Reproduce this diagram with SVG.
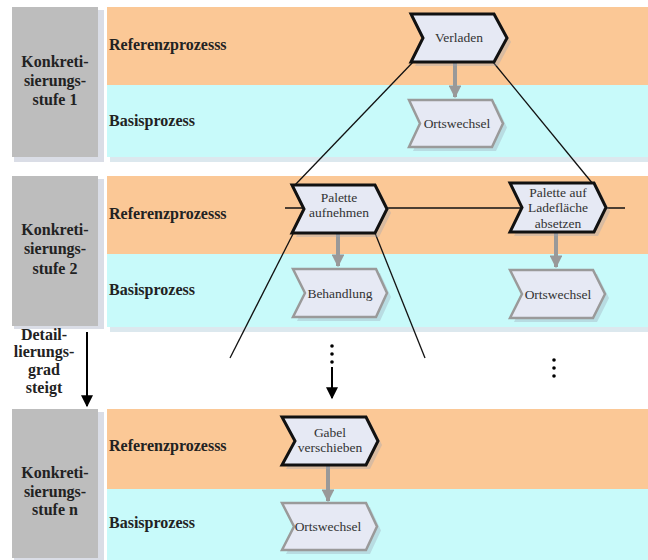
<svg xmlns="http://www.w3.org/2000/svg" width="648" height="560" viewBox="0 0 648 560">
<defs>
<style>
.ref{fill:#FBC896}
.bas{fill:#C8FAFA}
.gray{fill:#BDBDBD}
.gsh{fill:#DADDE6}
.bsh{fill:#DCE8EE}
.lvl{font-family:"Liberation Serif","Times New Roman",serif;font-weight:bold;font-size:16px;fill:#222;text-anchor:middle}
.lane{font-family:"Liberation Serif","Times New Roman",serif;font-weight:bold;font-size:16px;fill:#222}
.nt{font-family:"Liberation Serif","Times New Roman",serif;font-size:13.5px;fill:#333;text-anchor:middle}
.rn{fill:#E6E9F4;stroke:#111;stroke-width:3;stroke-linejoin:miter}
.bn{fill:#E6E9F4;stroke:#9A9A9A;stroke-width:2.5}
.sh{fill:#9AA3B5;opacity:0.35}
.ln{stroke:#111;stroke-width:1.3;fill:none}
.ga{stroke:#999;stroke-width:4;fill:none}
</style>
<marker id="gh" viewBox="0 0 10 10" refX="9" refY="5" markerWidth="3.2" markerHeight="3.2" orient="auto" markerUnits="strokeWidth">
<path d="M0,0 L10,5 L0,10 z" fill="#999"/>
</marker>
<marker id="bh" viewBox="0 0 10 10" refX="9" refY="5" markerWidth="6.5" markerHeight="6" orient="auto" markerUnits="strokeWidth">
<path d="M0,0 L10,5 L0,10 z" fill="#000"/>
</marker>
</defs>
<rect width="648" height="560" fill="#FFFFFF"/>

<g id="band1">
<rect class="gsh" x="14" y="10" width="90" height="152"/>
<rect class="gray" x="12" y="7" width="86" height="150"/>
<rect class="bsh" x="110" y="155" width="538" height="7"/>
<rect class="ref" x="107" y="7" width="541" height="78"/>
<rect class="bas" x="107" y="85" width="541" height="72"/>
<text class="lvl" x="55" y="67">Konkreti-</text>
<text class="lvl" x="55" y="86">sierungs-</text>
<text class="lvl" x="55" y="105">stufe 1</text>
<text class="lane" x="109" y="50">Referenzprozesss</text>
<text class="lane" x="109" y="126">Basisprozess</text>
</g>

<g id="band2">
<rect class="gsh" x="14" y="179" width="90" height="150"/>
<rect class="gray" x="12" y="176" width="86" height="150"/>
<rect class="bsh" x="110" y="325" width="538" height="7"/>
<rect class="ref" x="107" y="176" width="541" height="78"/>
<rect class="bas" x="107" y="254" width="541" height="73"/>
<text class="lvl" x="55" y="235">Konkreti-</text>
<text class="lvl" x="55" y="254">sierungs-</text>
<text class="lvl" x="55" y="274">stufe 2</text>
<text class="lane" x="109" y="219">Referenzprozesss</text>
<text class="lane" x="109" y="295">Basisprozess</text>
</g>

<g id="detail">
<text class="lvl" x="44" y="340">Detail-</text>
<text class="lvl" x="44" y="357">lierungs-</text>
<text class="lvl" x="44" y="375">grad</text>
<text class="lvl" x="44" y="393">steigt</text>
<line x1="87" y1="332" x2="87" y2="406" stroke="#000" stroke-width="2" marker-end="url(#bh)"/>
</g>

<g id="bandn">
<rect class="gsh" x="14" y="412" width="90" height="148"/>
<rect class="gray" x="12" y="409" width="86" height="149"/>
<rect class="ref" x="107" y="409" width="541" height="80"/>
<rect class="bas" x="107" y="489" width="541" height="71"/>
<text class="lvl" x="55" y="478">Konkreti-</text>
<text class="lvl" x="55" y="497">sierungs-</text>
<text class="lvl" x="55" y="515">stufe n</text>
<text class="lane" x="109" y="451">Referenzprozesss</text>
<text class="lane" x="109" y="528">Basisprozess</text>
</g>

<g id="connectors">
<line class="ln" x1="414" y1="61" x2="295" y2="185"/>
<line class="ln" x1="493" y1="62" x2="593" y2="184"/>
<line class="ln" x1="295" y1="230" x2="230" y2="358"/>
<line class="ln" x1="375" y1="233" x2="425" y2="358"/>
<line class="ln" x1="285" y1="208" x2="625" y2="208"/>
<line class="ga" x1="455" y1="63" x2="455" y2="97" marker-end="url(#gh)"/>
<line class="ga" x1="338" y1="234" x2="338" y2="266" marker-end="url(#gh)"/>
<line class="ga" x1="556" y1="233" x2="556" y2="267" marker-end="url(#gh)"/>
<line class="ga" x1="328" y1="466" x2="328" y2="501" marker-end="url(#gh)"/>
<circle cx="332" cy="346" r="1.8" fill="#000"/>
<circle cx="332" cy="354" r="1.8" fill="#000"/>
<circle cx="332" cy="362" r="1.8" fill="#000"/>
<line x1="332" y1="367" x2="332" y2="398" stroke="#000" stroke-width="2" marker-end="url(#bh)"/>
<circle cx="554" cy="360" r="1.8" fill="#000"/>
<circle cx="554" cy="368" r="1.8" fill="#000"/>
<circle cx="554" cy="376" r="1.8" fill="#000"/>
</g>

<g id="n-verladen">
<polygon class="sh" points="415,18 498,18 511,42 498,66 415,66 427,42"/>
<polygon class="rn" points="411,14 494,14 507,38 494,62 411,62 423,38"/>
<text class="nt" x="459" y="42">Verladen</text>
</g>
<g id="n-ortswechsel1">
<polygon class="sh" points="413,104 496,104 507,127.5 496,151 413,151 424,127.5"/>
<polygon class="bn" points="409,100 492,100 503,123.5 492,147 409,147 420,123.5"/>
<text class="nt" x="457" y="128">Ortswechsel</text>
</g>
<g id="n-palette-aufnehmen">
<polygon class="sh" points="296,189 379,189 391,213 379,237 296,237 308,213"/>
<polygon class="rn" points="292,185 375,185 387,209 375,233 292,233 304,209"/>
<text class="nt" x="339" y="202">Palette</text>
<text class="nt" x="339" y="217">aufnehmen</text>
</g>
<g id="n-behandlung">
<polygon class="sh" points="297,273 380,273 391,297 380,321 297,321 309,297"/>
<polygon class="bn" points="293,269 376,269 387,293 376,317 293,317 305,293"/>
<text class="nt" x="340" y="298">Behandlung</text>
</g>
<g id="n-palette-absetzen">
<polygon class="sh" points="514,187 598,187 610,211.5 598,236 514,236 526,211.5"/>
<polygon class="rn" points="510,183 594,183 606,207.5 594,232 510,232 522,207.5"/>
<text class="nt" x="558" y="197">Palette auf</text>
<text class="nt" x="558" y="212">Ladefläche</text>
<text class="nt" x="558" y="228">absetzen</text>
</g>
<g id="n-ortswechsel2">
<polygon class="sh" points="514,274 597,274 609,298 597,322 514,322 526,298"/>
<polygon class="bn" points="510,270 593,270 605,294 593,318 510,318 522,294"/>
<text class="nt" x="558" y="299">Ortswechsel</text>
</g>
<g id="n-gabel">
<polygon class="sh" points="286,421 370,421 382,445 370,469 286,469 299,445"/>
<polygon class="rn" points="282,417 366,417 378,441 366,465 282,465 295,441"/>
<text class="nt" x="330" y="437">Gabel</text>
<text class="nt" x="330" y="452">verschieben</text>
</g>
<g id="n-ortswechseln">
<polygon class="sh" points="286,507 370,507 381,530.5 370,554 286,554 298,530.5"/>
<polygon class="bn" points="282,503 366,503 377,526.5 366,550 282,550 294,526.5"/>
<text class="nt" x="328" y="531">Ortswechsel</text>
</g>
</svg>
